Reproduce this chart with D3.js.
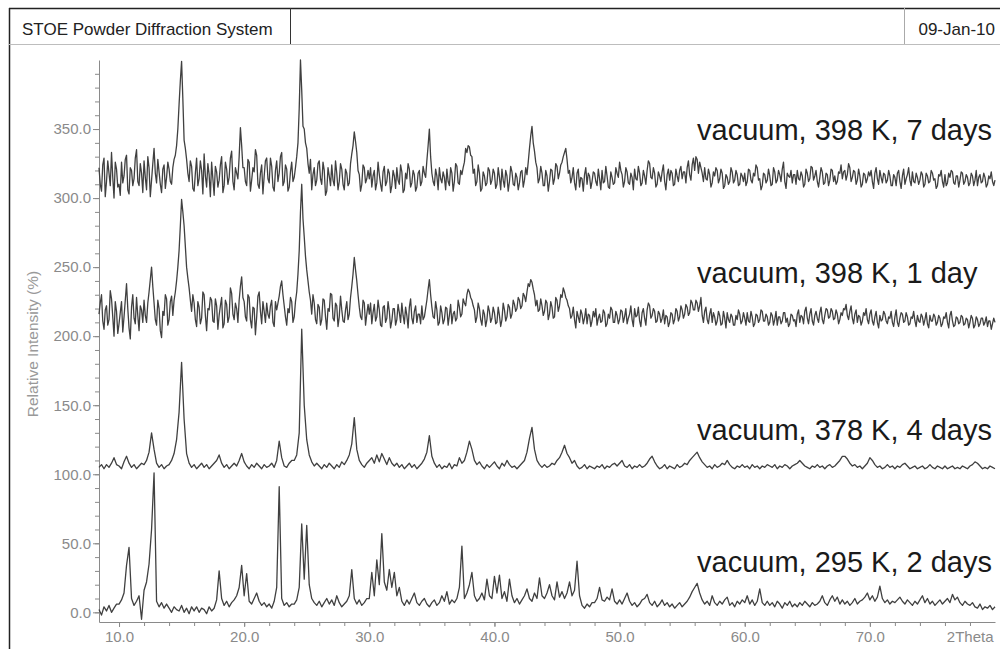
<!DOCTYPE html>
<html><head><meta charset="utf-8">
<script src="https://cdn.jsdelivr.net/npm/d3@7"></script>
<style>
body{margin:0;background:#fff;}
svg{display:block;font-family:Arial,"Liberation Sans",sans-serif;}
</style>
</head><body>
<svg id="chart" width="1000" height="649"></svg>
<script>
// 2Theta grids of the measured patterns (start and step in degrees)
const twoThetaStart = 8.4;
const fineStep = 0.1;    // used by the two noisy 398 K patterns
const coarseStep = 0.2;  // used by the 378 K and 295 K patterns

// vacuum, 398 K, 7 days (0.1 deg; rows: 8.4-9.9, then 10.0-11.9, 12.0-13.9, ...)
const s7d = [
322,310,305,324,329,301,312,327,318,309,333,315,300,326,321,308,
310,302,326,311,316,328,331,306,303,322,320,309,314,329,335,312,309,325,318,304,
327,315,306,330,322,301,313,325,336,318,311,328,319,310,304,321,324,307,315,326,
321,312,310,322,328,331,338,350,368,385,399,372,342,336,328,318,312,327,323,307,
305,318,329,309,314,327,320,303,332,316,308,325,317,301,326,314,302,323,319,308,
313,324,330,304,309,326,321,310,315,329,334,312,306,322,318,314,330,351,338,322,
322,312,309,328,326,305,313,322,319,335,331,310,307,318,324,303,316,327,329,314,
311,329,323,308,305,320,327,312,318,330,333,309,312,324,321,305,308,319,326,312,
315,322,330,340,365,400,378,352,350,340,336,325,318,328,306,317,322,309,313,325,
327,314,310,326,320,302,305,322,316,309,324,313,309,327,318,306,312,325,321,310,
306,321,318,309,311,325,332,338,348,341,333,320,317,305,310,324,322,311,314,320,
314,322,308,316,320,306,311,326,317,310,305,319,323,309,312,321,318,304,309,320,
316,307,322,313,310,324,319,304,306,318,314,325,321,308,311,320,317,305,308,318,
320,309,312,323,318,315,327,338,350,330,318,312,309,321,316,306,322,314,311,319,
315,306,321,312,309,322,318,305,312,325,323,311,310,320,317,322,326,336,333,338,
337,331,330,318,321,309,312,324,318,305,307,319,316,309,311,322,320,310,313,321,
318,307,310,322,315,306,321,313,308,320,316,305,312,323,319,310,309,318,315,306,
311,319,320,308,313,322,317,326,336,345,352,340,334,326,322,311,314,323,318,309,
309,320,316,305,312,321,320,310,314,325,323,314,318,324,326,330,333,336,328,318,
320,311,315,322,311,306,318,321,308,315,314,305,317,322,310,318,316,307,312,319,
318,312,309,321,314,306,320,311,312,323,316,308,307,319,315,310,311,322,318,315,
326,320,317,308,312,322,319,311,310,318,315,306,321,314,313,323,318,309,311,320,
316,310,320,327,325,315,314,322,318,308,310,319,316,312,319,324,312,306,317,321,
313,320,318,309,310,321,316,312,320,323,314,319,319,311,322,327,317,313,324,329,
320,330,328,318,326,322,318,312,322,314,313,321,317,308,311,319,316,322,320,311,
314,321,318,307,309,317,315,310,312,322,319,311,313,320,317,309,310,318,316,312,
318,309,312,321,320,313,311,318,316,324,322,313,314,306,309,318,317,311,313,321,
316,309,310,322,319,311,313,320,317,312,321,326,312,307,318,316,315,320,311,317,
317,310,320,314,313,319,316,308,310,321,318,312,314,323,322,313,316,320,312,308,
315,322,319,310,311,318,317,309,313,321,320,312,316,310,312,319,318,324,314,319,
320,313,317,325,322,312,315,320,319,310,313,321,316,308,310,318,317,311,314,319,
316,320,312,307,318,322,314,310,320,315,311,318,317,311,313,320,316,309,309,317,
315,309,318,320,312,307,316,321,310,314,317,322,313,309,319,312,311,318,315,310,
313,319,317,308,310,318,316,311,312,320,318,313,314,307,309,317,316,320,312,308,
317,309,311,318,315,320,319,311,310,316,316,308,313,319,318,310,312,317,315,309,
311,318,316,309,313,320,309,315,317,311,312,318,315,308,310,316,314,319,312,309,
313];

// vacuum, 398 K, 1 day (0.1 deg)
const s1d = [
216,224,230,211,205,219,222,208,212,233,227,214,200,225,218,202,
209,217,225,203,214,226,238,220,206,198,221,230,213,209,228,215,204,222,219,210,
226,215,210,224,232,241,250,236,224,212,208,226,220,204,199,218,215,230,227,208,
212,225,229,215,226,232,240,250,262,280,299,290,280,265,250,242,235,226,218,230,
224,212,207,225,221,209,213,232,230,215,204,220,219,228,226,211,210,227,222,205,
215,222,228,206,209,226,223,210,214,235,231,216,212,224,220,210,226,236,243,228,
225,214,211,230,228,212,206,221,220,201,214,229,232,218,209,225,218,210,224,216,
213,222,226,210,207,225,219,224,229,236,240,230,222,214,208,220,217,228,225,210,
214,225,232,245,262,290,310,285,272,258,248,240,232,226,216,230,224,212,209,223,
221,208,212,227,226,214,205,220,218,231,230,213,211,224,222,207,214,229,219,211,
210,219,225,212,216,228,236,245,257,248,240,230,221,214,212,226,224,208,216,223,
216,224,209,217,223,211,214,226,219,208,207,221,222,210,213,225,218,206,211,220,
220,208,212,223,217,210,224,215,209,221,215,206,221,227,213,209,218,222,210,216,
216,209,222,212,214,220,226,234,241,230,221,214,213,225,219,208,210,222,217,209,
212,221,220,208,215,223,209,216,218,211,213,226,221,214,216,227,224,222,230,234,
232,228,226,222,219,210,214,224,220,212,208,219,216,207,212,222,218,210,213,221,
217,209,210,221,215,207,212,224,219,211,214,223,221,213,216,226,223,218,220,228,
226,220,222,231,229,225,232,238,236,241,239,234,230,222,226,218,219,227,222,215,
218,226,224,212,216,225,221,213,214,228,226,218,222,230,228,235,232,228,226,222,
220,213,215,221,212,206,218,214,210,219,216,209,213,220,209,216,215,207,211,218,
214,220,208,213,216,210,211,219,217,207,209,216,213,221,219,210,210,218,215,209,
212,219,218,210,214,220,209,213,216,222,212,207,220,214,215,221,211,207,217,220,
213,208,219,224,222,213,215,220,218,210,211,218,216,210,213,219,209,215,214,207,
210,217,216,209,212,220,218,211,214,222,219,213,216,223,221,215,217,226,224,219,
219,226,224,218,222,228,215,210,218,221,212,209,216,220,210,217,214,208,211,218,
215,208,209,218,213,206,217,212,210,216,214,208,208,215,212,219,216,209,211,217,
213,208,217,211,210,218,214,207,209,216,215,210,212,219,218,211,211,216,214,208,
210,217,215,208,212,218,208,214,214,209,211,217,217,210,213,207,209,216,215,211,
212,207,216,219,210,215,214,209,218,221,213,209,216,220,211,208,215,218,213,210,
217,221,212,209,215,220,219,213,214,220,218,212,213,219,216,209,212,217,215,220,
219,223,215,212,218,222,213,209,216,219,210,215,214,208,211,217,215,220,212,209,
216,219,211,208,214,218,210,206,215,211,212,218,216,211,209,214,213,218,210,207,
214,219,210,207,213,217,216,210,211,217,214,208,209,214,213,218,211,207,215,211,
210,216,214,208,212,217,209,206,215,211,211,216,214,208,210,215,213,207,209,214,
213,217,210,206,215,218,211,207,208,214,213,209,210,215,214,208,209,213,212,206,
210,215,213,206,208,214,212,207,209,213,213,208,210,214,207,211,211,205,209,213,
210];

// vacuum, 378 K, 4 days (0.2 deg; rows: 8.4-9.8, then 10.0-11.8, ...)
const s4d = [
105,107,104,107,105,108,112,107,
106,104,109,113,108,105,107,104,106,108,
107,110,116,130,118,108,105,107,104,106,
107,110,115,125,145,181,140,115,108,105,
107,104,106,108,105,107,104,106,108,110,
114,108,105,107,104,106,108,106,110,115,
109,106,104,107,105,108,106,104,107,105,
106,108,105,110,124,112,106,105,108,110,
110,114,130,205,150,125,114,109,106,108,
106,104,107,105,108,106,104,107,105,109,
107,110,114,122,141,118,110,107,105,108,
110,112,108,114,109,115,111,107,112,108,
106,108,105,107,104,106,108,105,107,104,
106,108,111,116,128,113,108,105,107,104,
106,105,108,104,107,106,112,108,110,116,
124,118,110,107,109,106,104,107,105,107,
109,106,104,108,106,110,107,105,106,104,
106,108,110,116,126,134,118,110,107,105,
107,105,106,108,107,110,112,116,121,115,
112,108,110,106,104,105,107,104,106,105,
104,106,105,107,104,106,105,107,108,106,
108,110,106,105,107,104,106,105,107,105,
106,108,111,113,109,106,104,105,107,104,
106,105,104,107,105,106,108,107,110,112,
114,116,112,109,107,105,106,104,107,105,
106,108,107,110,107,105,104,106,105,107,
105,106,104,107,105,106,104,106,105,107,
106,105,107,104,106,105,107,106,104,106,
107,108,110,108,106,105,104,106,105,107,
105,106,104,106,107,105,106,108,110,113,
113,111,108,106,107,105,106,104,106,108,
112,110,107,105,106,104,105,107,105,106,
104,106,105,107,108,106,104,105,106,104,
105,106,104,105,107,105,104,106,105,104,
106,104,105,106,104,105,104,106,105,104,
106,107,109,108,106,104,105,104,106,105,
104];

// vacuum, 295 K, 2 days (0.2 deg)
const s2d = [
2,-2,4,1,5,0,3,6,
6,9,14,34,47,10,5,8,12,-5,
16,22,35,60,101,8,4,7,3,6,
3,0,4,2,1,5,0,3,-1,4,
1,4,0,3,2,-1,4,1,3,9,
30,10,5,8,4,7,9,12,18,34,
12,28,8,6,10,14,8,5,7,4,
6,3,8,18,91,10,5,7,4,6,
6,9,18,64,24,63,20,10,7,5,
8,4,7,10,6,9,5,12,7,4,
6,8,12,31,10,6,9,5,7,10,
10,29,12,38,20,57,22,16,31,18,
29,12,18,8,5,9,6,10,14,7,
5,8,10,6,4,7,9,5,7,12,
8,15,6,9,7,10,18,48,10,14,
20,29,12,8,10,14,9,24,12,10,
26,14,27,10,15,8,24,12,7,10,
6,9,12,17,10,8,14,10,25,12,
10,14,20,12,9,22,11,15,10,14,
22,12,16,37,12,5,3,6,4,7,
7,10,18,9,8,11,9,17,8,6,
9,6,10,14,8,5,7,4,6,9,
10,13,7,5,8,4,6,9,5,7,
4,6,3,5,7,4,6,8,11,15,
18,21,14,9,6,8,5,12,7,5,
8,6,9,11,5,7,4,8,6,9,
7,12,6,9,5,8,17,7,5,8,
5,7,4,8,6,3,7,5,8,4,
6,4,7,5,8,6,4,7,5,6,
8,12,7,5,9,12,8,11,6,9,
6,8,5,7,10,6,8,9,11,14,
9,12,8,11,19,10,7,9,6,8,
7,9,11,8,6,9,7,5,8,6,
9,12,7,10,6,8,5,7,9,6,
8,10,7,13,9,11,7,5,8,6,
5,7,4,3,6,2,4,3,5,2,
4];

const seriesLabels = ["vacuum, 398 K, 7 days","vacuum, 398 K, 1 day","vacuum, 378 K, 4 days","vacuum, 295 K, 2 days"];
const seriesLabelY = [140, 283, 440, 572];
const yMajorTicks = [0,50,100,150,200,250,300,350];
const yMinorTicks = d3.range(0, 400, 10);
const xMajorTicks = [10,20,30,40,50,60,70,80];
const xMinorTicks = d3.range(10, 80, 2);
const xEndLabel = "2Theta";
const yTitle = "Relative Intensity (%)";
const headerTitle = "STOE Powder Diffraction System";
const headerDate = "09-Jan-10";

const svg = d3.select("#chart");
const x = d3.scaleLinear().domain([8.4, 80]).range([99, 995]);
const y = d3.scaleLinear().domain([-7, 400]).range([622, 60]);
const grey = "#8a8a8a";

// header frame
svg.append("line").attr("x1",9).attr("x2",1000).attr("y1",8.5).attr("y2",8.5).attr("stroke","#222").attr("stroke-width",1.5);
svg.append("line").attr("x1",9.5).attr("x2",9.5).attr("y1",8).attr("y2",649).attr("stroke","#222").attr("stroke-width",1.5);
svg.append("line").attr("x1",9).attr("x2",1000).attr("y1",44.5).attr("y2",44.5).attr("stroke","#bdbdbd");
svg.append("line").attr("x1",290.5).attr("x2",290.5).attr("y1",8).attr("y2",44).attr("stroke","#333");
svg.append("line").attr("x1",904.5).attr("x2",904.5).attr("y1",8).attr("y2",44).attr("stroke","#aaa");
svg.append("text").attr("x",22).attr("y",35).attr("font-size",17).attr("fill","#222").text(headerTitle);
svg.append("text").attr("x",995).attr("y",35).attr("font-size",17).attr("fill","#222").attr("text-anchor","end").text(headerDate);

function styleAxis(g){
  g.selectAll("path.domain").attr("stroke", grey);
  g.selectAll(".tick line").attr("stroke", grey);
  g.selectAll(".tick text").attr("fill", grey).attr("font-size", 15).attr("font-family","Arial, 'Liberation Sans', sans-serif");
}

// y axis
const yMinor = svg.append("g").attr("transform","translate(99,0)")
  .call(d3.axisLeft(y).tickValues(yMinorTicks).tickSize(4).tickSizeOuter(0).tickFormat(""));
styleAxis(yMinor);
const yMajor = svg.append("g").attr("transform","translate(99,0)")
  .call(d3.axisLeft(y).tickValues(yMajorTicks).tickSize(6).tickSizeOuter(0).tickPadding(2).tickFormat(d3.format(".1f")));
styleAxis(yMajor);
yMajor.select("path.domain").remove();

// x axis
const xMinor = svg.append("g").attr("transform","translate(0,622)")
  .call(d3.axisBottom(x).tickValues(xMinorTicks).tickSize(4).tickSizeOuter(0).tickFormat(""));
styleAxis(xMinor);
const xMajor = svg.append("g").attr("transform","translate(0,622)")
  .call(d3.axisBottom(x).tickValues(xMajorTicks).tickSize(5).tickSizeOuter(0).tickPadding(4)
    .tickFormat(d => d === 80 ? xEndLabel : d3.format(".1f")(d)));
styleAxis(xMajor);
xMajor.select("path.domain").remove();
xMajor.selectAll(".tick").filter(d => d === 80).select("line").remove();
xMajor.selectAll(".tick").filter(d => d === 80).select("text").attr("text-anchor","end").attr("dx",-2);

// y title
svg.append("text").attr("transform","translate(38,344) rotate(-90)").attr("text-anchor","middle")
  .attr("font-size",15.5).attr("fill","#999").text(yTitle);

// patterns
const line = d3.line().x(d => x(d[0])).y(d => y(d[1]));
const patterns = [
  {vals: s7d, step: fineStep},
  {vals: s1d, step: fineStep},
  {vals: s4d, step: coarseStep},
  {vals: s2d, step: coarseStep}
];
patterns.forEach(p => {
  const pts = p.vals.map((v,i) => [twoThetaStart + i*p.step, v]);
  svg.append("path").datum(pts).attr("d", line)
    .attr("fill","none").attr("stroke","#404040").attr("stroke-width", 1.3)
    .attr("stroke-linejoin","round");
});

// series labels
seriesLabels.forEach((t,i) => {
  svg.append("text").attr("x",697).attr("y",seriesLabelY[i]).attr("font-size",29).attr("fill","#1a1a1a").text(t);
});
</script>
</body></html>
